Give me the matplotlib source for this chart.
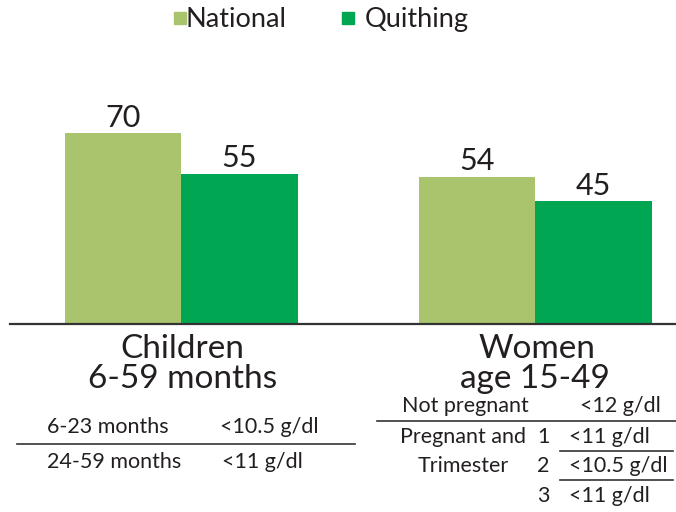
import numpy as np
import matplotlib.pyplot as plt
from matplotlib.patches import Rectangle

plt.rcParams['font.family'] = ['Lato', 'DejaVu Sans']

groups = ["Children\n6-59 months", "Women\nage 15-49"]
series = ["National", "Quithing"]
national = [70, 54]
quithing = [55, 45]
colors = ["#a9c46c", "#00a651"]

W, H = 676, 512
fig = plt.figure(figsize=(W / 100, H / 100), dpi=100)

# axes placed in pixel terms: baseline at y=324, left 10 px, right edge 676
ax = fig.add_axes([10 / W, 188 / H, 666 / W, 273 / H])

x = np.arange(len(groups))
w = 0.329
ax.bar(x - w / 2, national, w, color=colors[0])
ax.bar(x + w / 2, quithing, w, color=colors[1])

for xi, v in zip(x - w / 2, national):
    ax.annotate(str(v), (xi, v), xytext=(0, 1), textcoords="offset points",
                ha="center", va="bottom", fontsize=22, color="#231f20")
for xi, v in zip(x + w / 2, quithing):
    ax.annotate(str(v), (xi, v), xytext=(0, 1), textcoords="offset points",
                ha="center", va="bottom", fontsize=22, color="#231f20")

ax.set_xlim(-0.483, 1.398)
ax.set_ylim(0, 100)
for s in ["top", "left", "right"]:
    ax.spines[s].set_visible(False)
ax.spines["bottom"].set_color("#333333")
ax.spines["bottom"].set_linewidth(1.6)
ax.set_xticks([])
ax.set_yticks([])


def ftxt(px, py, s, size=15.5, ha="left"):
    # py is the text baseline in pixels from the top
    fig.text(px / W, 1 - py / H, s, fontsize=size, ha=ha, va="baseline", color="#231f20")


def fline(x0, x1, py):
    fig.add_artist(plt.Line2D([x0 / W, x1 / W], [1 - py / H, 1 - py / H],
                              color="#333333", lw=1.2))


# category labels
ftxt(182, 358, "Children", size=24, ha="center")
ftxt(183, 388, "6-59 months", size=24, ha="center")
ftxt(537, 358, "Women", size=24, ha="center")
ftxt(535, 388, "age 15-49", size=24, ha="center")

# legend
leg_x = [174, 342]
txt_x = [186, 365]
for lx, tx, name, c in zip(leg_x, txt_x, series, colors):
    fig.add_artist(Rectangle((lx / W, 1 - 24 / H), 12 / W, 12 / H, color=c,
                             transform=fig.transFigure))
    ftxt(tx, 27, name, size=19.5)

# children thresholds table
ftxt(47, 433, "6-23 months")
ftxt(220, 433, "<10.5 g/dl")
fline(17, 355, 444)
ftxt(47, 468, "24-59 months")
ftxt(222, 468, "<11 g/dl")

# women thresholds table
ftxt(402, 412, "Not pregnant")
ftxt(580, 412, "<12 g/dl")
fline(377, 676, 421)
ftxt(400, 443, "Pregnant and")
ftxt(418, 472, "Trimester")
ftxt(537, 443, "1")
ftxt(569, 443, "<11 g/dl")
fline(560, 673, 451)
ftxt(537, 472, "2")
ftxt(569, 472, "<10.5 g/dl")
fline(560, 673, 480)
ftxt(537, 502, "3")
ftxt(569, 502, "<11 g/dl")

fig.savefig("out.png", dpi=100)
